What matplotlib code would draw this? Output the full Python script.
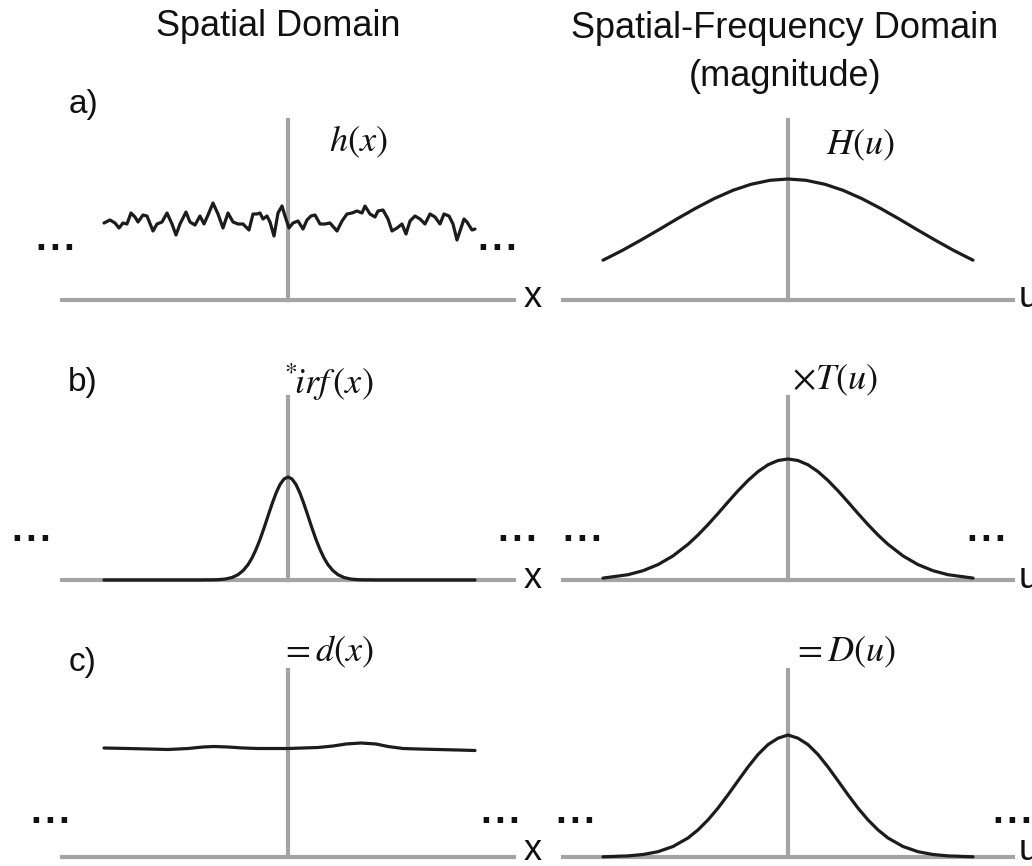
import matplotlib.pyplot as plt

plt.rcParams['font.family'] = ['Liberation Sans', 'DejaVu Sans']
plt.rcParams['mathtext.fontset'] = 'stix'

# all curve x values are offsets from the centre line, y values are heights above the axis

# a) noisy signal h(x)
h_x = [-184, -178, -173, -169, -165, -161, -157, -153, -150, -145, -141, -135, -131, -126,
       -121, -116, -112, -108, -102, -98, -93, -88, -84, -80, -75, -70, -65, -60, -55, -50,
       -45, -39, -35, -31, -28, -25, -21, -18, -14, -10, -6, -3, 1, 5, 10, 15, 19, 23, 27,
       32, 37, 42, 49, 54, 59, 64, 69, 74, 77, 82, 87, 90, 95, 100, 104, 109, 114, 118, 122,
       127, 132, 137, 142, 147, 152, 156, 161, 165, 169, 172, 176, 179, 184, 187]
h_y = [77, 80, 77, 72, 77, 76, 87, 83, 78, 85, 84, 69, 76, 78, 87, 76, 65, 76, 88, 78, 75,
       84, 76, 85, 97, 86, 72, 87, 78, 76, 76, 70, 86, 86, 87, 81, 84, 78, 64, 87, 94, 84,
       72, 77, 79, 71, 80, 84, 85, 76, 76, 77, 69, 79, 86, 87, 89, 87, 94, 86, 83, 89, 90,
       81, 69, 72, 76, 66, 79, 84, 81, 76, 86, 83, 76, 86, 84, 76, 60, 69, 81, 78, 70, 71]

# a) H(u)
H_u = [-185, -166, -148, -129, -111, -92, -74, -55, -37, -18, 0,
       18, 37, 55, 74, 92, 111, 129, 148, 166, 185]
H_v = [39.8, 49.4, 59.4, 70.4, 81.1, 91.9, 101.3, 109.7, 115.7, 119.7, 121,
       119.7, 115.7, 109.7, 101.3, 91.9, 81.1, 70.4, 59.4, 49.4, 39.8]

# b) irf(x)
irf_x = [-184, -90, -72, -63, -56, -50, -45, -40, -36, -32, -28, -24, -20, -16, -12, -8, -4, 0,
         4, 8, 12, 16, 20, 24, 28, 32, 36, 40, 45, 50, 56, 63, 72, 90, 187]
irf_y = [0, 0, 0.2, 0.9, 2.5, 5.3, 9.3, 15.3, 22, 30.5, 40.5, 51.9, 64, 75.9, 86.8, 95.5, 101, 103,
         101, 95.5, 86.8, 75.9, 64, 51.9, 40.5, 30.5, 22, 15.3, 9.3, 5.3, 2.5, 0.9, 0.2, 0, 0]

# b) T(u)
T_u = [-185, -160, -145, -130, -115, -100, -90, -80, -70, -60, -50, -40, -30, -20, -10, 0,
       10, 20, 30, 40, 50, 60, 70, 80, 90, 100, 115, 130, 145, 160, 185]
T_v = [1.9, 5.3, 9.3, 15.4, 24.1, 35.7, 45.0, 55.4, 66.5, 78.0, 89.2, 99.5, 108.4, 115.2, 119.5, 121,
       119.5, 115.2, 108.4, 99.5, 89.2, 78.0, 66.5, 55.4, 45.0, 35.7, 24.1, 15.4, 9.3, 5.3, 1.9]

# c) d(x)
d_x = [-184, -160, -140, -120, -100, -85, -74, -60, -45, -30, -15, 0, 15, 30, 45, 58, 73, 88,
       100, 115, 130, 150, 170, 187]
d_y = [109, 108.5, 108, 107.5, 108.5, 110, 110.5, 110, 109, 108.5, 108.5, 108.5, 109, 109.5,
       111, 113, 114, 113, 110.5, 108.5, 108, 107.5, 107, 106.5]

# c) D(u)
D_u = [-185, -160, -145, -130, -115, -100, -90, -80, -70, -60, -50, -40, -30, -20, -10, 0,
       10, 20, 30, 40, 50, 60, 70, 80, 90, 100, 115, 130, 145, 160, 185]
D_v = [0.2, 1.1, 2.5, 5.3, 10.5, 19.0, 27.1, 37.1, 48.9, 62.2, 76.2, 90.0, 102.5, 112.4, 118.8, 122,
       118.8, 112.4, 102.5, 90.0, 76.2, 62.2, 48.9, 37.1, 27.1, 19.0, 10.5, 5.3, 2.5, 1.1, 0.2]

W, HT = 1032, 866
GRID = '#a4a4a4'
INK = '#1c1c1c'

fig = plt.figure(figsize=(W / 100, HT / 100), dpi=100)


def fx(px):
    return px / W


def fy(py):
    return 1 - py / HT


def panel(left, right, base, top):
    ax = fig.add_axes([fx(left), fy(base), (right - left) / W, (base - top) / HT])
    half = (right - left) / 2
    ax.set_xlim(-half, half)
    ax.set_ylim(0, base - top)
    ax.axis('off')
    ax.axhline(0, color=GRID, lw=3, clip_on=False, zorder=1)
    ax.axvline(0, color=GRID, lw=3, clip_on=False, zorder=1)
    return ax


def curve(ax, xs, ys):
    ax.plot(xs, ys, color=INK, lw=2.3, solid_joinstyle='round', solid_capstyle='round',
            clip_on=False, zorder=3)


def txt(px, py, s, size, **kw):
    fig.text(fx(px), fy(py), s, fontsize=size, ha=kw.pop('ha', 'center'),
             va=kw.pop('va', 'center'), color='#111111', **kw)


rows = [(300, 120), (580, 397), (857, 670)]
series = [((h_x, h_y), (H_u, H_v)),
          ((irf_x, irf_y), (T_u, T_v)),
          ((d_x, d_y), (D_u, D_v))]

for i, ((base, top), (left_s, right_s)) in enumerate(zip(rows, series)):
    axl = panel(62, 514, base, top)
    curve(axl, *left_s)
    axr = panel(563, 1013, base, top)
    curve(axr, *right_s)
    ly = base - 2 if i < 2 else base - 7
    txt(533, ly, 'x', 26)
    txt(1019, ly, 'u', 26, ha='left')

# column titles
txt(278, 27, 'Spatial Domain', 26)
txt(785, 28, 'Spatial-Frequency Domain', 26)
txt(785, 77, '(magnitude)', 26)

# row letters
txt(83, 104, 'a)', 24)
txt(83, 382, 'b)', 24)
txt(83, 662, 'c)', 24)

# function labels
txt(358, 142, r'$h(x)$', 26)
txt(860, 145, r'$H(u)$', 26)
txt(329, 382, r'${}^{*}\!irf\,(x)$', 26)
txt(835, 380, r'$\times T(u)$', 26)
txt(327, 652, r'$=d(x)$', 26)
txt(844, 652, r'$=D(u)$', 26)

# continuation dots
dots = [(55, 247), (497, 247),
        (31, 538), (517, 538), (582, 538), (986, 538),
        (50, 820), (500, 820), (575, 820), (1012, 820)]
for px, py in dots:
    txt(px, py - 7, '.\u200a.\u200a.', 28, fontweight='bold')

fig.savefig('out.png', dpi=100)
